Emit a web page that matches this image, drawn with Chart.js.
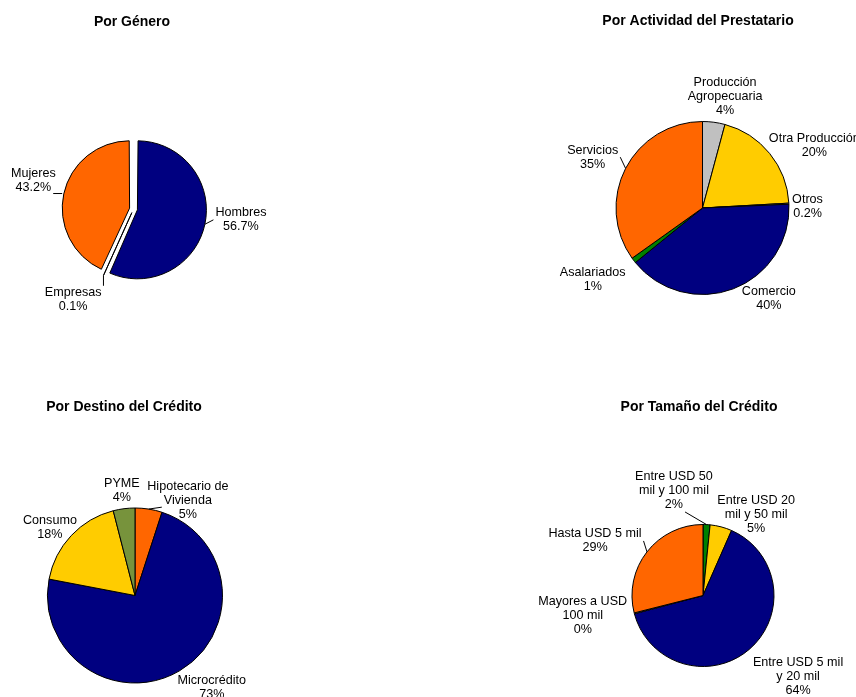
<!DOCTYPE html>
<html>
<head>
<meta charset="utf-8">
<title>Cartera</title>
<script src="https://cdn.jsdelivr.net/npm/chart.js@4.4.1/dist/chart.umd.min.js"></script>
<style>
  html, body { margin: 0; padding: 0; background: #fff; overflow: hidden; }
  .box { position: absolute; }
</style>
</head>
<body>
<div class="box" style="left:0;top:0"><canvas id="pie-genero" width="428" height="348"></canvas></div>
<div class="box" style="left:428px;top:0"><canvas id="pie-actividad" width="428" height="348"></canvas></div>
<div class="box" style="left:0;top:348px"><canvas id="pie-destino" width="428" height="349"></canvas></div>
<div class="box" style="left:428px;top:348px"><canvas id="pie-tamano" width="428" height="349"></canvas></div>
<script>
// Por Género
var generoCats = ["Hombres", "Empresas", "Mujeres"];
var generoVals = [56.7, 0.1, 43.2];
var generoPct = ["56.7%", "0.1%", "43.2%"];

// Por Actividad del Prestatario
var actividadCats = ["Producción\nAgropecuaria", "Otra Producción", "Otros", "Comercio", "Asalariados", "Servicios"];
var actividadVals = [4.2, 20, 0.2, 40, 1, 35];
var actividadPct = ["4%", "20%", "0.2%", "40%", "1%", "35%"];

// Por Destino del Crédito
var destinoCats = ["Hipotecario de\nVivienda", "Microcrédito", "Consumo", "PYME"];
var destinoVals = [5, 73, 18, 4];
var destinoPct = ["5%", "73%", "18%", "4%"];

// Por Tamaño del Crédito
var tamanoCats = ["Entre USD 50\nmil y 100 mil", "Entre USD 20\nmil y 50 mil", "Entre USD 5 mil\ny 20 mil", "Mayores a USD\n100 mil", "Hasta USD 5 mil"];
var tamanoVals = [1.6, 5, 64.4, 0.2, 29];
var tamanoPct = ["2%", "5%", "64%", "0%", "29%"];

var NAVY = "#000080", ORANGE = "#FF6600", YELLOW = "#FFCC00", GRAY = "#C0C0C0", GREEN = "#008000", OLIVE = "#77933C";

var FONT = "'Liberation Sans', Arial, sans-serif";

// layout of each pie: center/radius inside its canvas, label placement (turn in degrees from slice middle, distance from center)
var pies = [
  {
    id: "pie-genero", title: "Por Género", titleX: 132, titleY: 22,
    cats: generoCats, vals: generoVals, pct: generoPct,
    colors: [NAVY, "#FFFFFF", ORANGE],
    cx: 133.5, cy: 209, radius: 65, offset: 16,
    turn: [-6.3, 9.3, 3.4], dist: [108, 109, 104], leaders: [1, 1, 1]
  },
  {
    id: "pie-actividad", title: "Por Actividad del Prestatario", titleX: 270, titleY: 21,
    cats: actividadCats, vals: actividadVals, pct: actividadPct,
    colors: [GRAY, YELLOW, "#FFFFFF", NAVY, GREEN, ORANGE],
    cx: 274.5, cy: 208, radius: 86.5, offset: 0,
    turn: [3.9, 10, 1.8, -15.5, 4.2, -2.4], dist: [114, 128, 105, 112, 131, 121], leaders: [0, 0, 0, 0, 0, 1]
  },
  {
    id: "pie-destino", title: "Por Destino del Crédito", titleX: 124, titleY: 59.5,
    cats: destinoCats, vals: destinoVals, pct: destinoPct,
    colors: [ORANGE, NAVY, YELLOW, OLIVE],
    cx: 135, cy: 247.5, radius: 87.5, offset: 0,
    turn: [20, -9.2, -4.5, 0.1], dist: [109, 120, 109, 106], leaders: [1, 0, 0, 0]
  },
  {
    id: "pie-tamano", title: "Por Tamaño del Crédito", titleX: 271, titleY: 59.5,
    cats: tamanoCats, vals: tamanoVals, pct: tamanoPct,
    colors: [GREEN, YELLOW, NAVY, "#FFFFFF", ORANGE],
    cx: 275, cy: 247.5, radius: 71, offset: 0,
    turn: [-18.4, 18.5, -8.9, 4.9, -11.1], dist: [108.5, 97, 125, 122, 121], leaders: [1, 0, 0, 0, 1]
  }
];

// draws title, outside labels and leader lines
var pieLabels = {
  id: "pieLabels",
  afterDraw: function(chart) {
    var cfg = chart.options.plugins.pieLabels;
    var ctx = chart.ctx;
    var arcs = chart.getDatasetMeta(0).data;
    ctx.save();
    ctx.fillStyle = "#000";
    ctx.textAlign = "center";
    ctx.textBaseline = "middle";
    ctx.font = "bold 14px " + FONT;
    ctx.fillText(cfg.title, cfg.titleX, cfg.titleY);

    ctx.font = "12.6px " + FONT;
    ctx.strokeStyle = "#000";
    ctx.lineWidth = 1;
    var lh = 14;
    for (var i = 0; i < arcs.length; i++) {
      var p = arcs[i].getProps(["x", "y", "startAngle", "endAngle", "outerRadius"], true);
      var mid = (p.startAngle + p.endAngle) / 2;
      var a = mid + cfg.turn[i] * Math.PI / 180;
      var lx = p.x + Math.cos(a) * cfg.dist[i];
      var ly = p.y + Math.sin(a) * cfg.dist[i];
      var lines = cfg.cats[i].split("\n").concat([cfg.pct[i]]);
      var top = ly - lh * lines.length / 2;
      var boxes = [];
      for (var k = 0; k < lines.length; k++) {
        var y = top + lh * k + lh / 2;
        ctx.fillText(lines[k], lx, y);
        var w = ctx.measureText(lines[k]).width;
        boxes.push([lx - w / 2 - 2, y - 7, lx + w / 2 + 2, y + 7]);
      }
      if (cfg.leaders[i]) {
        var shift = (cfg.offset || 0) / 4;
        var er = p.outerRadius + 2 * shift;
        var ex = p.x + Math.cos(mid) * er;
        var ey = p.y + Math.sin(mid) * er;
        var best = null, bd = 1e9;
        boxes.forEach(function(b) {
          var qx = Math.min(Math.max(ex, b[0]), b[2]);
          var qy = Math.min(Math.max(ey, b[1]), b[3]);
          var d = Math.hypot(qx - ex, qy - ey);
          if (d < bd) { bd = d; best = [qx, qy]; }
        });
        if (best && bd > 1) {
          ctx.beginPath();
          ctx.moveTo(ex, ey);
          ctx.lineTo(best[0], best[1]);
          ctx.stroke();
        }
      }
    }
    ctx.restore();
  }
};

function padFor(cx, cy, w, h) {
  var s = Math.min(cx, w - cx, cy, h - cy);
  return { left: cx - s, right: w - cx - s, top: cy - s, bottom: h - cy - s };
}

pies.forEach(function(pie) {
  var canvas = document.getElementById(pie.id);
  new Chart(canvas, {
    type: "pie",
    data: {
      labels: pie.cats,
      datasets: [{
        data: pie.vals,
        backgroundColor: pie.colors,
        borderColor: "#000",
        borderWidth: 1,
        offset: pie.offset
      }]
    },
    options: {
      responsive: false,
      animation: false,
      events: [],
      radius: pie.radius,
      layout: { padding: padFor(pie.cx, pie.cy, canvas.width, canvas.height) },
      plugins: {
        legend: { display: false },
        tooltip: { enabled: false },
        pieLabels: pie
      }
    },
    plugins: [pieLabels]
  });
});
</script>
</body>
</html>
